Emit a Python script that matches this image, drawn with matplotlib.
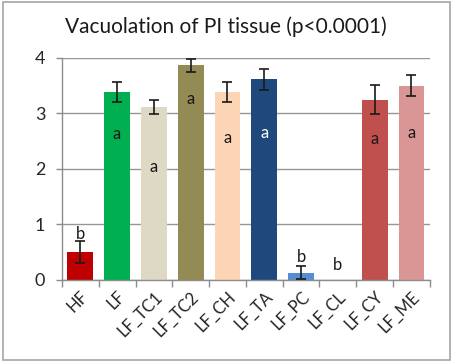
import matplotlib
matplotlib.use("Agg")
import matplotlib.pyplot as plt
from matplotlib.patches import Rectangle

groups = ["HF", "LF", "LF_TC1", "LF_TC2", "LF_CH", "LF_TA", "LF_PC", "LF_CL", "LF_CY", "LF_ME"]
means = [0.50, 3.38, 3.12, 3.87, 3.38, 3.62, 0.13, 0.0, 3.25, 3.50]
errors = [0.20, 0.18, 0.13, 0.12, 0.18, 0.19, 0.12, 0.0, 0.26, 0.19]
letters = ["b", "a", "a", "a", "a", "a", "b", "b", "a", "a"]
colors = ["#C00000", "#00B050", "#DDD9C4", "#948A54", "#FCD5B5",
          "#1F497D", "#558ED5", "#FFFFFF", "#C0504D", "#D99694"]

# letter placement (y in data units) and colour
letter_y = [0.83, 2.63, 2.03, 3.26, 2.56, 2.65, 0.41, 0.27, 2.54, 2.65]
letter_col = ["#1a1a1a"] * 10
letter_col[5] = "white"

plt.rcParams["font.family"] = ["Lato", "DejaVu Sans"]

fig = plt.figure(figsize=(4.52, 3.64), dpi=100)
ax = fig.add_axes([0.137, 0.2308, 0.814, 0.6099])

x = list(range(len(groups)))
ax.bar(x, means, width=0.7, color=colors, zorder=2)
err_x = [i for i in x if errors[i] > 0]
ax.errorbar(err_x, [means[i] for i in err_x], yerr=[errors[i] for i in err_x],
            fmt="none", ecolor="#1a1a1a", elinewidth=1.2, capsize=3.5,
            capthick=1.2, zorder=3)

for i, (lab, ly, c) in enumerate(zip(letters, letter_y, letter_col)):
    ax.text(i, ly, lab, ha="center", va="center", fontsize=12, color=c, zorder=4)

ax.set_xlim(-0.5, len(groups) - 0.5)
ax.set_ylim(0, 4)
ax.set_yticks([0, 1, 2, 3, 4])
ax.yaxis.grid(True, color="#969696", linewidth=1.0, zorder=0)
ax.set_axisbelow(True)

ax.set_xticks([i - 0.5 for i in range(len(groups) + 1)])
ax.set_xticklabels([])
ax.set_xticks(x, minor=True)
ax.set_xticklabels(groups, minor=True, rotation=45, ha="right",
                   rotation_mode="anchor", fontsize=12, color="#262626")
ax.tick_params(axis="x", which="minor", length=0, pad=6)
ax.tick_params(axis="x", which="major", length=5, color="#8c8c8c", width=1)
ax.tick_params(axis="y", length=4, color="#8c8c8c", width=1,
               labelsize=13, labelcolor="#262626", pad=8)

for side in ["top", "right"]:
    ax.spines[side].set_visible(False)
for side in ["left", "bottom"]:
    ax.spines[side].set_color("#8c8c8c")
    ax.spines[side].set_linewidth(1)

fig.text(0.5, 0.928, "Vacuolation of PI tissue (p<0.0001)", ha="center",
         va="center", fontsize=15, color="#1a1a1a")

# outer chart frame
fig.patches.append(Rectangle((3 / 452, 4 / 364), 447 / 452, 358 / 364,
                             transform=fig.transFigure, fill=False,
                             edgecolor="#a6a6a6", linewidth=1.2))

fig.savefig("out.png", dpi=100)
